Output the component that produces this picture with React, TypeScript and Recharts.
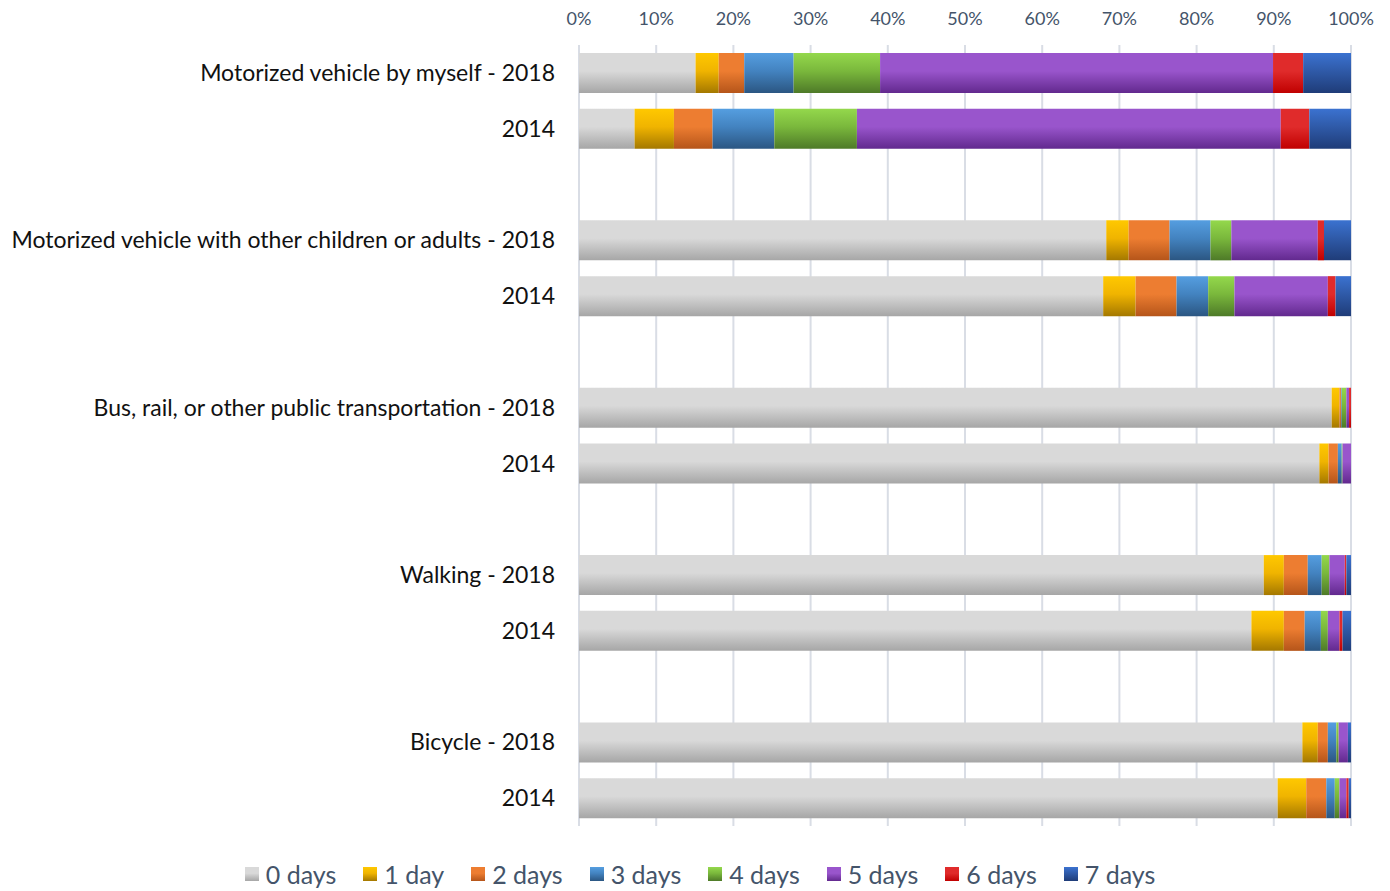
import { BarChart, Bar, XAxis, YAxis, CartesianGrid, Legend } from 'recharts';

// Share of respondents by number of days per week, per mode and survey year (%)
const categories = [
    'Motorized vehicle by myself - 2018',
    '2014',
    '',
    'Motorized vehicle with other children or adults - 2018',
    '2014',
    '',
    'Bus, rail, or other public transportation - 2018',
    '2014',
    '',
    'Walking - 2018',
    '2014',
    '',
    'Bicycle - 2018',
    '2014',
];

const days0 = [15.1, 7.2, 0, 68.3, 67.9, 0, 97.5, 95.9, 0, 88.7, 87.1, 0, 93.7, 90.5];
const days1 = [3.0, 5.1, 0, 2.9, 4.2, 0, 1.0, 1.2, 0, 2.6, 4.2, 0, 2.0, 3.7];
const days2 = [3.3, 5.0, 0, 5.3, 5.3, 0, 0.2, 1.2, 0, 3.1, 2.7, 0, 1.3, 2.6];
const days3 = [6.4, 8.0, 0, 5.3, 4.1, 0, 0.1, 0.5, 0, 1.8, 2.1, 0, 1.1, 1.1];
const days4 = [11.2, 10.7, 0, 2.7, 3.4, 0, 0.6, 0.1, 0, 1.0, 0.9, 0, 0.3, 0.6];
const days5 = [50.9, 54.9, 0, 11.2, 12.1, 0, 0.35, 1.1, 0, 2.0, 1.5, 0, 1.2, 0.9];
const days6 = [3.9, 3.7, 0, 0.8, 1.0, 0, 0.25, 0, 0, 0.2, 0.4, 0, 0, 0.3];
const days7 = [6.2, 5.4, 0, 3.5, 2.0, 0, 0, 0, 0, 0.6, 1.1, 0, 0.4, 0.3];

const xTicks = [0, 0.1, 0.2, 0.3, 0.4, 0.5, 0.6, 0.7, 0.8, 0.9, 1];

const series = [
    { key: 'd0', name: '0 days', values: days0, top: '#d9d9d9', mid: '#d9d9d9', bottom: '#a6a6a6' },
    { key: 'd1', name: '1 day', values: days1, top: '#ffc800', mid: '#f0b400', bottom: '#a47800' },
    { key: 'd2', name: '2 days', values: days2, top: '#ed7d31', mid: '#ed7d31', bottom: '#b5551a' },
    { key: 'd3', name: '3 days', values: days3, top: '#559ee0', mid: '#4383c0', bottom: '#2b5682' },
    { key: 'd4', name: '4 days', values: days4, top: '#94d84c', mid: '#7ab83c', bottom: '#4e7a28' },
    { key: 'd5', name: '5 days', values: days5, top: '#9955cc', mid: '#9955cc', bottom: '#62298e' },
    { key: 'd6', name: '6 days', values: days6, top: '#e02b2b', mid: '#e02b2b', bottom: '#c00000' },
    { key: 'd7', name: '7 days', values: days7, top: '#3b72d0', mid: '#2f5aa8', bottom: '#1f3c78' },
];

const data = categories.map((name, i) => {
    const row: Record<string, string | number> = { name };
    series.forEach((s) => {
        row[s.key] = s.values[i];
    });
    return row;
});

const renderLegend = () => (
    <div
        style={{
            display: 'flex',
            justifyContent: 'center',
            alignItems: 'center',
            gap: '27px',
            height: 30,
            paddingLeft: 10,
        }}
    >
        {series.map((s) => (
            <div key={s.key} style={{ display: 'flex', alignItems: 'center' }}>
                <span
                    style={{
                        display: 'inline-block',
                        width: 14,
                        height: 14,
                        marginRight: 7,
                        background: `linear-gradient(to bottom, ${s.top}, ${s.mid} 45%, ${s.bottom})`,
                    }}
                />
                <span style={{ fontSize: 25, lineHeight: '30px', color: '#44546a', fontFamily: 'Lato, sans-serif' }}>
                    {s.name}
                </span>
            </div>
        ))}
    </div>
);

export default function App() {
    return (
        <div style={{ width: 1390, height: 891, background: '#fff' }}>
            <style>{'body{margin:0}'}</style>
            <BarChart
                width={1390}
                height={891}
                data={data}
                layout="vertical"
                stackOffset="expand"
                barCategoryGap={0}
                margin={{ top: 15, right: 39, bottom: 35, left: 0 }}
            >
                <defs>
                    {series.map((s) => (
                        <linearGradient key={s.key} id={`grad-${s.key}`} x1="0" y1="0" x2="0" y2="1">
                            <stop offset="0%" stopColor={s.top} />
                            <stop offset="45%" stopColor={s.mid} />
                            <stop offset="100%" stopColor={s.bottom} />
                        </linearGradient>
                    ))}
                </defs>
                <CartesianGrid horizontal={false} stroke="#d9dde5" strokeWidth={2} />
                <XAxis
                    type="number"
                    orientation="top"
                    domain={[0, 1]}
                    ticks={xTicks}
                    tickFormatter={(v: number) => `${Math.round(v * 100)}%`}
                    axisLine={false}
                    tickLine={false}
                    tickSize={18}
                    tickMargin={2}
                    height={30}
                    tick={{ fill: '#44546a', fontSize: 18, fontFamily: 'Lato, sans-serif' }}
                />
                <YAxis
                    type="category"
                    dataKey="name"
                    width={579}
                    axisLine={false}
                    tickLine={false}
                    tickSize={6}
                    tickMargin={18}
                    interval={0}
                    tick={{ fill: '#111', fontSize: 23, fontFamily: 'Lato, sans-serif' }}
                />
                <Legend
                    verticalAlign="bottom"
                    content={renderLegend}
                    wrapperStyle={{ bottom: 2, left: 0, width: 1390 }}
                />
                {series.map((s) => (
                    <Bar
                        key={s.key}
                        dataKey={s.key}
                        name={s.name}
                        stackId="a"
                        barSize={40}
                        fill={`url(#grad-${s.key})`}
                        isAnimationActive={false}
                    />
                ))}
            </BarChart>
        </div>
    );
}
